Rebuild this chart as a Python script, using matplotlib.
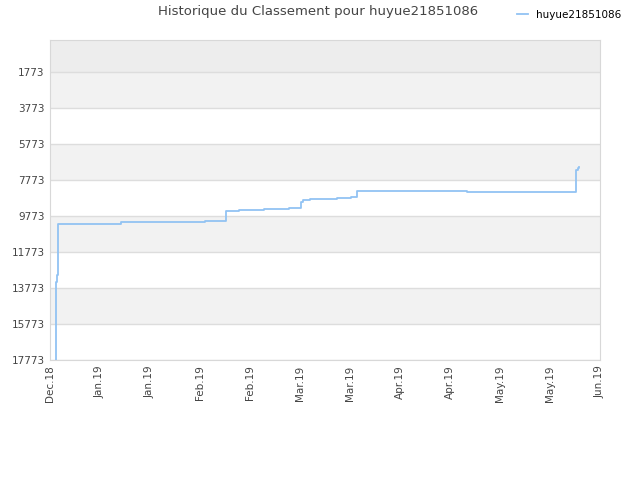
import matplotlib
matplotlib.use("Agg")
from matplotlib import pyplot as plt

plt.rcParams['font.family'] = ['DejaVu Sans']

# days since 2018-12-01, rank (lower is better)
days = [2.0, 2.05, 2.3, 2.65, 9.6, 23.5, 37.4, 51.3, 58.2, 62.5, 70.8, 79.1,
        83.1, 83.7, 86.0, 90.7, 95.0, 99.6, 101.6, 138.0, 174.1, 174.6, 175.2]
ranks = [17773, 13423, 13051, 10245, 10190, 10134, 10090, 10034, 9479, 9423, 9368, 9312,
         8995, 8901, 8845, 8801, 8756, 8701, 8368, 8423, 7218, 7090, 7051]

yticks = [1773, 3773, 5773, 7773, 9773, 11773, 13773, 15773, 17773]
xlabels = ["Dec.18", "Jan.19", "Jan.19", "Feb.19", "Feb.19", "Mar.19",
           "Mar.19", "Apr.19", "Apr.19", "May.19", "May.19", "Jun.19"]
player = "huyue21851086"

fig = plt.figure(figsize=(6.4, 4.8), dpi=100)
ax = fig.add_axes([50/640, 120/480, 550/640, 320/480])

# background bands
ax.axhspan(-5, 1773, color='#ededed', zorder=0, lw=0)
for lo in [1773, 5773, 9773, 13773]:
    ax.axhspan(lo, lo + 2000, color='#f2f2f2', zorder=0, lw=0)

ax.plot(days, ranks, drawstyle='steps-post', color='#92c3f3', lw=1.3,
        label=player, zorder=3)

ax.set_ylim(17773, -5)
ax.set_xlim(0, 182)
ax.set_yticks(yticks)
ax.set_yticklabels([str(t) for t in yticks], fontsize=7.5, color='#444444')
xt = [182 * i / 11 for i in range(12)]
ax.set_xticks(xt)
ax.set_xticklabels(xlabels, rotation=90, fontsize=7.5, color='#444444')
ax.tick_params(length=0, pad=4)
ax.yaxis.grid(True, color='#dddddd', lw=1)
ax.set_axisbelow(True)
for s in ax.spines.values():
    s.set_color('#d8d8d8')

fig.text(318/640, 1 - 12/480, "Historique du Classement pour " + player,
         ha='center', va='center', fontsize=9.5, color='#444444')
fig.legend(loc='center left', bbox_to_anchor=(508/640, 1 - 15/480), frameon=False,
           fontsize=7.5, handlelength=1.0, handletextpad=0.8)

fig.savefig("out.png", dpi=100)
